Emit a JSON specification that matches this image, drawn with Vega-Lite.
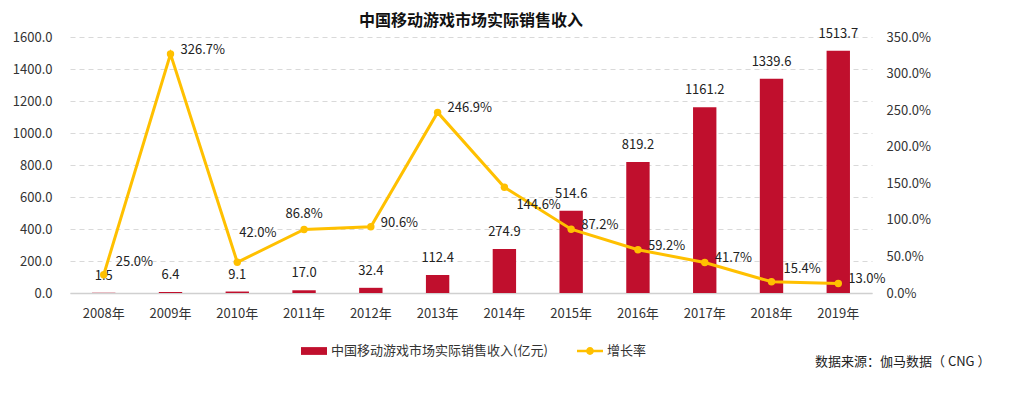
{
  "$schema": "https://vega.github.io/schema/vega-lite/v6.json",
  "width": 802,
  "height": 256,
  "autosize": {"type": "none"},
  "padding": {"left": 70, "top": 37, "right": 137, "bottom": 101},
  "background": "white",
  "config": {
    "font": "Noto Sans CJK SC",
    "view": {"stroke": null},
    "axis": {"labelFont": "Noto Sans CJK SC", "labelFontSize": 13, "labelColor": "#333", "titleFont": "Noto Sans CJK SC"},
    "legend": {"labelFont": "Noto Sans CJK SC", "labelFontSize": 13, "labelColor": "#333", "labelLimit": 400},
    "text": {"font": "Noto Sans CJK SC", "fontSize": 13, "color": "#222"}
  },
  "title": {"text": "中国移动游戏市场实际销售收入", "fontSize": 16, "fontWeight": "bold", "color": "#111", "anchor": "middle", "offset": -1, "font": "Noto Sans CJK SC"},
  "data": {"values": [
    {"year": "2008年", "revenue": 1.5, "growth": 0.25},
    {"year": "2009年", "revenue": 6.4, "growth": 3.267},
    {"year": "2010年", "revenue": 9.1, "growth": 0.42},
    {"year": "2011年", "revenue": 17.0, "growth": 0.868},
    {"year": "2012年", "revenue": 32.4, "growth": 0.906},
    {"year": "2013年", "revenue": 112.4, "growth": 2.469},
    {"year": "2014年", "revenue": 274.9, "growth": 1.446},
    {"year": "2015年", "revenue": 514.6, "growth": 0.872},
    {"year": "2016年", "revenue": 819.2, "growth": 0.592},
    {"year": "2017年", "revenue": 1161.2, "growth": 0.417},
    {"year": "2018年", "revenue": 1339.6, "growth": 0.154},
    {"year": "2019年", "revenue": 1513.7, "growth": 0.13}
  ]},
  "encoding": {
    "x": {"field": "year", "type": "nominal", "sort": null,
      "scale": {"paddingInner": 0.65, "paddingOuter": 0.33},
      "axis": {"labelAngle": 0, "ticks": false, "domain": true, "domainColor": "#d0d0d0", "domainWidth": 1.5, "labelPadding": 14,
        "title": "数据来源：伽马数据（ CNG ）", "titleAnchor": "end", "titleAlign": "right", "titleX": 920, "titleY": 68, "titleBaseline": "middle", "titleFontSize": 13, "titleFontWeight": "normal", "titleColor": "#222"}}
  },
  "layer": [
    {
      "encoding": {
        "y": {"field": "revenue", "type": "quantitative",
          "scale": {"domain": [0, 1600]},
          "axis": {"values": [0, 200, 400, 600, 800, 1000, 1200, 1400, 1600], "format": ".1f", "title": null, "domain": false, "ticks": false, "labelPadding": 18, "grid": true, "gridColor": "#d9d9d9", "gridDash": [5, 4], "gridWidth": 1}}
      },
      "layer": [
        {"mark": {"type": "bar", "color": "#C00F2D"},
         "encoding": {"color": {"datum": "中国移动游戏市场实际销售收入(亿元)", "scale": {"range": ["#C00F2D"]},
           "legend": {"orient": "none", "legendX": 231, "legendY": 301, "title": null, "symbolType": "M-1,-0.3H1V0.3H-1Z", "symbolSize": 676, "symbolStrokeWidth": 0, "labelOffset": 4}}}},
        {"mark": {"type": "text", "baseline": "middle", "dy": -17},
         "encoding": {"text": {"field": "revenue", "type": "quantitative", "format": ".1f"}}}
      ]
    },
    {
      "encoding": {
        "y": {"field": "growth", "type": "quantitative",
          "scale": {"domain": [0, 3.5]},
          "axis": {"orient": "right", "values": [0, 0.5, 1, 1.5, 2, 2.5, 3, 3.5], "format": ".1%", "title": null, "domain": false, "ticks": false, "grid": false, "labelPadding": 14}}
      },
      "layer": [
        {"mark": {"type": "line", "strokeWidth": 3},
         "encoding": {"color": {"datum": "增长率", "scale": {"range": ["#FFC000"]},
           "legend": {"orient": "none", "legendX": 507, "legendY": 301, "title": null, "symbolType": "M-1,-0.1H1V0.1H-1Z M-0.3,0A0.3,0.3 0 1,1 0.3,0A0.3,0.3 0 1,1 -0.3,0Z", "symbolSize": 676, "labelOffset": 4,
             "encode": {"symbols": {"update": {"fill": {"value": "#FFC000"}, "stroke": {"value": "#FFC000"}, "strokeWidth": {"value": 0}}}}}}}},
        {"mark": {"type": "point", "filled": true, "size": 55, "opacity": 1},
         "encoding": {"color": {"datum": "增长率"}}},
        {"transform": [{"filter": "indexof(['2009年','2012年','2013年','2015年','2016年','2017年','2019年'], datum.year) >= 0"}],
         "mark": {"type": "text", "align": "left", "baseline": "middle", "dx": 10, "dy": -4},
         "encoding": {"text": {"field": "growth", "type": "quantitative", "format": ".1%"}}},
        {"transform": [{"filter": "datum.year == '2008年' || datum.year == '2018年'"}],
         "mark": {"type": "text", "align": "left", "baseline": "middle", "dx": 12, "dy": -13},
         "encoding": {"text": {"field": "growth", "type": "quantitative", "format": ".1%"}}},
        {"transform": [{"filter": "datum.year == '2010年'"}],
         "mark": {"type": "text", "align": "left", "baseline": "middle", "dx": 2, "dy": -29},
         "encoding": {"text": {"field": "growth", "type": "quantitative", "format": ".1%"}}},
        {"transform": [{"filter": "datum.year == '2011年'"}],
         "mark": {"type": "text", "align": "center", "baseline": "middle", "dy": -16},
         "encoding": {"text": {"field": "growth", "type": "quantitative", "format": ".1%"}}},
        {"transform": [{"filter": "datum.year == '2014年'"}],
         "mark": {"type": "text", "align": "left", "baseline": "middle", "dx": 12, "dy": 18},
         "encoding": {"text": {"field": "growth", "type": "quantitative", "format": ".1%"}}}
      ]
    }
  ],
  "resolve": {"scale": {"y": "independent", "color": "independent"}}
}
